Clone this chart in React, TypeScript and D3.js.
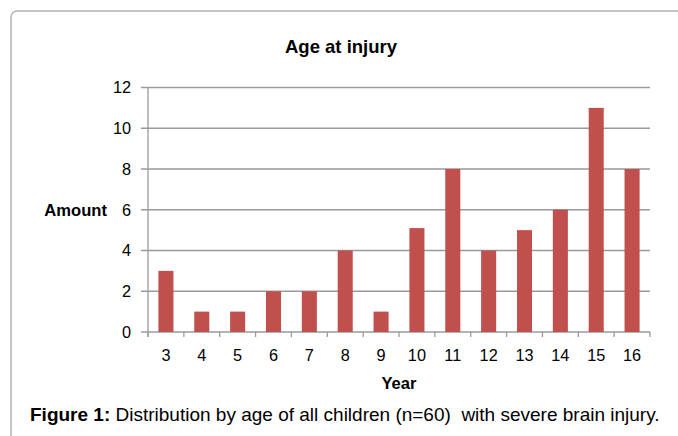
import { scaleBand, scaleLinear, range } from "d3";

const years = ["3", "4", "5", "6", "7", "8", "9", "10", "11", "12", "13", "14", "15", "16"];
const amounts = [3, 1, 1, 2, 2, 4, 1, 5.1, 8, 4, 5, 6, 11, 8];
const yTicks = [0, 2, 4, 6, 8, 10, 12];

const W = 678;
const H = 436;
const margin = { top: 87.5, right: 28, bottom: 104, left: 148 };
const font = "Arial, 'Liberation Sans', sans-serif";

export default function App() {
  const innerW = W - margin.left - margin.right;
  const innerH = H - margin.top - margin.bottom;

  const x = scaleBand().domain(years).range([0, innerW]).paddingInner(0.58).paddingOuter(0.29);
  const y = scaleLinear().domain([0, 12]).range([innerH, 0]);
  const step = innerW / years.length;

  return (
    <svg
      width={W}
      height={H}
      style={{ position: "absolute", left: 0, top: 0, background: "#fff" }}
      fontFamily={font}
    >
      {/* outer box, cut at right and bottom */}
      <rect x={11} y={11} width={W + 20} height={H + 20} rx={6} fill="none" stroke="#b4b4b4" strokeWidth={1.5} />

      <text x={341} y={53} textAnchor="middle" fontSize={18.5} fontWeight="bold">
        Age at injury
      </text>

      <g transform={`translate(${margin.left}, ${margin.top})`}>
        {/* gridlines + y ticks */}
        {yTicks.map((t) => (
          <g key={t} transform={`translate(0, ${y(t)})`}>
            <line x1={-7} x2={innerW} stroke="#9a9a9a" strokeWidth={1.3} />
            <text x={-17} dy="0.36em" textAnchor="end" fontSize={16.3}>
              {t}
            </text>
          </g>
        ))}

        {/* bars */}
        {years.map((d, i) => (
          <rect
            key={d}
            x={x(d)}
            y={y(amounts[i])}
            width={x.bandwidth()}
            height={innerH - y(amounts[i])}
            fill="#C0504D"
          />
        ))}

        {/* y axis */}
        <line x1={0} x2={0} y1={0} y2={innerH + 5} stroke="#9a9a9a" strokeWidth={1.3} />

        {/* x ticks */}
        {range(years.length + 1).map((i) => (
          <line key={i} x1={i * step} x2={i * step} y1={innerH} y2={innerH + 5} stroke="#9a9a9a" strokeWidth={1.3} />
        ))}

        {years.map((d) => (
          <text key={d} x={x(d)! + x.bandwidth() / 2} y={innerH + 29} textAnchor="middle" fontSize={16.3}>
            {d}
          </text>
        ))}
      </g>

      <text x={107} y={216} textAnchor="end" fontSize={16.6} fontWeight="bold">
        Amount
      </text>
      <text x={399} y={389} textAnchor="middle" fontSize={16.6} fontWeight="bold">
        Year
      </text>

      <text x={30} y={421} fontSize={19} style={{ whiteSpace: "pre" }}>
        <tspan fontWeight="bold">Figure 1:</tspan>
        <tspan>{" Distribution by age of all children (n=60)  with severe brain injury."}</tspan>
      </text>
    </svg>
  );
}
